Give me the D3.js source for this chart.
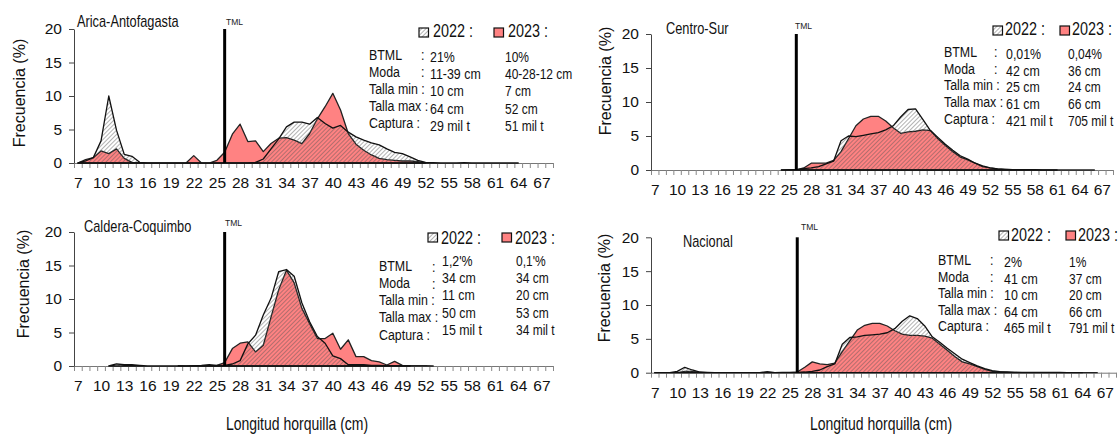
<!DOCTYPE html>
<html>
<head>
<meta charset="utf-8">
<script src="https://cdn.jsdelivr.net/npm/d3@7"></script>
<style>
    body { margin: 0; background: #fff; }
    svg { display: block; font-family: 'Liberation Sans', Arial, sans-serif; }
</style>
</head>
<body>
<div id="chartDiv"></div>
<script>
//Length classes (cm), one value per class, from 7 to 68
let lengths = [7, 8, 9, 10, 11, 12, 13, 14, 15, 16, 17, 18, 19, 20, 21, 22, 23, 24, 25, 26,
    27, 28, 29, 30, 31, 32, 33, 34, 35, 36, 37, 38, 39, 40, 41, 42, 43, 44, 45, 46,
    47, 48, 49, 50, 51, 52, 53, 54, 55, 56, 57, 58, 59, 60, 61, 62, 63, 64, 65, 66, 67, 68];
let xTickLabels = [7, 10, 13, 16, 19, 22, 25, 28, 31, 34, 37, 40, 43, 46, 49, 52, 55, 58, 61, 64, 67];
let yTicks = [0, 5, 10, 15, 20];
let tml = 26;

//Frequencies (%) per length class, null where the year has no data
let arica2022 = [0, 0.3, 0.8, 3.3, 10, 4.9, 1.3, 1.0, 0.1,
    0, 0, 0, 0, 0, 0, 0, 0, 0, 0, 0, 0, 0, 0,
    0.1, 0.6, 2.1, 3.6, 5.4, 6.1, 6.1, 5.8, 6.8, 5.9,
    5.2, 5.6, 4.6, 3.9, 3.4, 3.0, 2.7, 2.1, 1.6, 1.4,
    0.9, 0.4, 0.1, 0.05, 0, 0, 0, 0.05, 0, 0,
    0, 0, 0, 0, 0,
    null, null, null, null];
let arica2023 = [0, 0.5, 0.8, 1.8, 1.4, 2.1, 0.7, 0.1, 0,
    0, 0, 0, 0, 0, 0, 1.1, 0, 0, 0.4,
    1.6, 4.3, 5.8, 3.2, 3.3, 1.7, 2.9, 3.7, 3.8, 3.4,
    2.9, 4.4, 6.6, 8.4, 10.4, 7.9, 4.4, 2.8, 1.9, 1.2,
    0.7, 0.5, 0.4, 0.3, 0.3, 0.2, 0,
    null, null, null, null, null, null, null, null, null, null, null, null, null, null, null, null];
let centro2022 = [null, null, null, null, null, null, null, null, null, null, null, null, null, null, null, null, null,
    0, 0.05, 0.05, 0.2, 0.3, 0.5, 0.9, 1.3, 4.3, 5.0,
    4.9, 5.1, 5.3, 5.5, 5.9, 6.5, 7.8, 8.9, 9.0, 7.4,
    5.8, 4.8, 3.8, 2.9, 2.1, 1.6, 1.0, 0.6, 0.3, 0.15,
    0.1, 0.05, 0.05, 0.05, 0.05, 0, 0, 0,
    null, null, null, null, null, null, null];
let centro2023 = [null, null, null, null, null, null, null, null, null, null, null, null, null, null, null, null, null,
    0, 0, 0, 0.3, 1.0, 1.0, 1.0, 1.4, 2.7, 4.6,
    6.5, 7.5, 7.9, 7.9, 7.2, 6.2, 5.4, 5.6, 5.7, 5.9,
    5.8, 4.6, 3.6, 2.7, 1.9, 1.5, 1.0, 0.5, 0.3, 0.15,
    0.1, 0.05, 0.05, 0.05, 0, 0, 0, 0, 0, 0, 0, 0, 0,
    null, null];
let caldera2022 = [null, null, null, null,
    0, 0.3, 0.2, 0.2, 0.1, 0, 0, 0, 0, 0,
    0, 0.05, 0.1, 0.2, 0.1, 0.1, 0.3, 0.8, 3.3, 4.6,
    7.6, 10.1, 14.1, 14.4, 13.4, 9.4, 6.6, 4.4, 3.4, 1.5,
    1.1, 0.2, 0.2, 0.2, 0.1, 0.1, 0.05, 0.05, 0.05, 0.05,
    null, null, null, null, null, null, null, null, null, null, null, null, null, null, null, null, null, null];
let caldera2023 = [null, null, null, null, null, null, null, null, null, null, null, null, null,
    0.05, 0, 0, 0, 0, 0.1, 0.5, 2.6, 3.4, 3.6,
    2.1, 3.1, 7.3, 11.4, 14.3, 12.4, 8.6, 6.3, 4.1, 4.1,
    4.9, 2.5, 3.9, 1.4, 1.4, 0.8, 0.6, 0.15, 0.7, 0.1,
    0.05, 0.05, 0.05, 0,
    null, null, null, null, null, null, null, null, null, null, null, null, null, null, null];
let nacional2022 = [0, 0, 0, 0.2, 0.8, 0.4, 0.1, 0.05, 0, 0,
    0, 0, 0, 0, 0, 0.05, 0, 0.05, 0.05, 0.05,
    0.1, 0.2, 0.4, 0.9, 1.3, 4.2, 5.2, 5.3, 5.5, 5.6,
    5.7, 5.9, 6.5, 7.6, 8.4, 8.0, 6.9, 5.3, 4.5, 3.6,
    2.8, 2.0, 1.5, 1.0, 0.6, 0.3, 0.15, 0.1, 0.05, 0.05,
    0.05, 0.05, 0.05, 0.05, 0.05, 0, 0, 0,
    null, null, null, null];
let nacional2023 = [0, 0, 0, 0, 0.2, 0.2, 0.05, 0, 0, 0,
    0, 0, 0, 0, 0, 0.15, 0, 0, 0, 0.1,
    0.8, 1.6, 1.3, 1.2, 1.4, 3.1, 4.7, 6.3, 7.0, 7.3,
    7.3, 6.9, 6.2, 5.7, 5.5, 5.5, 5.4, 5.1, 4.2, 3.3,
    2.4, 1.6, 1.3, 0.9, 0.5, 0.2, 0.1, 0.05, 0.05, 0,
    0, 0, 0, 0, 0, 0, 0, 0, 0, 0,
    null, null];

//Summary boxes: one pair [2022, 2023] per row
let statLabels = ['BTML', 'Moda', 'Talla min :', 'Talla max :', 'Captura :'];
let aricaStats = [['21%', '10%'], ['11-39 cm', '40-28-12 cm'], ['10 cm', '7 cm'], ['64 cm', '52 cm'], ['29 mil t', '51 mil t']];
let centroStats = [['0,01%', '0,04%'], ['42 cm', '36 cm'], ['25 cm', '24 cm'], ['61 cm', '66 cm'], ['421 mil t', '705 mil t']];
let calderaStats = [["1,2'%", "0,1'%"], ['34 cm', '34 cm'], ['11 cm', '20 cm'], ['50 cm', '53 cm'], ['15 mil t', '34 mil t']];
let nacionalStats = [['2%', '1%'], ['41 cm', '37 cm'], ['10 cm', '20 cm'], ['64 cm', '66 cm'], ['465 mil t', '791 mil t']];

let panels = [
    {title: 'Arica-Antofagasta', s22: arica2022, s23: arica2023, stats: aricaStats,
        x0: 74, x1: 553, yBottom: 163, yTop: 29, titlePos: [77, 27], tmlPos: [226, 25], yTitle: [24.5, 93],
        legend: {top: 28, box1: 419, text1: 433, box2: 494, text2: 508, base: 37},
        rows: {label: 369, colon: 421, v1: 430, v2: 505, top: 59.5, step: 17.2, vOff: 2.5, cOff: 0}},
    {title: 'Centro-Sur', s22: centro2022, s23: centro2023, stats: centroStats,
        x0: 651, x1: 1113, yBottom: 170, yTop: 34, titlePos: [666, 33.5], tmlPos: [795, 28.5], yTitle: [610.5, 81],
        legend: {top: 26, box1: 993, text1: 1005, box2: 1060, text2: 1072, base: 35},
        rows: {label: 944, colon: 994, v1: 1006, v2: 1068, top: 56.7, step: 16.8, vOff: 2, cOff: 0}},
    {title: 'Caldera-Coquimbo', s22: caldera2022, s23: caldera2023, stats: calderaStats,
        x0: 74, x1: 553, yBottom: 366, yTop: 232, titlePos: [84, 231.5], tmlPos: [225, 226], yTitle: [28.5, 284],
        legend: {top: 233, box1: 428, text1: 441, box2: 502, text2: 515, base: 243.5},
        rows: {label: 379, colon: 432, v1: 442, v2: 516, top: 270.7, step: 17.2, vOff: -4.7, cOff: 1.5}},
    {title: 'Nacional', s22: nacional2022, s23: nacional2023, stats: nacionalStats,
        x0: 651, x1: 1116, yBottom: 372.7, yTop: 237.3, titlePos: [683, 246.5], tmlPos: [801, 230], yTitle: [609.5, 288],
        legend: {top: 231, box1: 999, text1: 1011, box2: 1066, text2: 1078, base: 241},
        rows: {label: 938, colon: 990, v1: 1004, v2: 1069, top: 265, step: 16.6, vOff: 2, cOff: 0}}
];

let pink = '#ff8282';

let svg = d3.select('#chartDiv')
    .append('svg')
    .attr('width', 1118)
    .attr('height', 434);

//Diagonal hatch used for the 2022 series (transparent background so 2023 shows through)
svg.append('defs')
    .append('pattern')
    .attr('id', 'hatch')
    .attr('patternUnits', 'userSpaceOnUse')
    .attr('width', 3)
    .attr('height', 3)
    .attr('patternTransform', 'rotate(45)')
    .append('line')
    .attr('x1', 0).attr('y1', 0).attr('x2', 0).attr('y2', 3)
    .attr('stroke', '#555')
    .attr('stroke-width', 0.9);

//Narrow text: Arial metrics squeezed horizontally
let narrowText = function(g, x, y, str, size) {
    return g.append('text')
        .attr('transform', 'translate(' + x + ',' + y + ') scale(0.8,1)')
        .style('font-size', size + 'px')
        .attr('fill', '#111')
        .text(str);
};

panels.forEach(function(p) {
    let g = svg.append('g');

    let xScale = d3.scaleLinear()
        .domain([lengths[0] - 0.5, lengths[lengths.length - 1] + 0.5])
        .range([p.x0, p.x1]);
    let yScale = d3.scaleLinear()
        .domain([0, 20])
        .range([p.yBottom, p.yTop]);

    let area = d3.area()
        .defined(function(d) {return d.v !== null})
        .x(function(d) {return xScale(d.c)})
        .y0(yScale(0))
        .y1(function(d) {return yScale(d.v)});

    let d23 = lengths.map(function(c, i) {return {c: c, v: p.s23[i]}});
    let d22 = lengths.map(function(c, i) {return {c: c, v: p.s22[i]}});

    //x axis: ticks between classes, labels every 3 cm
    g.append('g')
        .attr('class', 'axis axis--x')
        .attr('transform', 'translate(0,' + p.yBottom + ')')
        .call(d3.axisBottom(xScale)
            .tickValues(lengths.map(function(c) {return c - 0.5}).concat([lengths[lengths.length - 1] + 0.5]))
            .tickFormat('')
            .tickSize(5)
            .tickSizeOuter(0))
        .call(function(a) {
            a.select('.domain').attr('stroke', '#777');
            a.selectAll('.tick line').attr('stroke', '#888');
        });

    g.append('g')
        .attr('transform', 'translate(0,' + p.yBottom + ')')
        .call(d3.axisBottom(xScale).tickValues(xTickLabels).tickSize(0).tickPadding(14))
        .call(function(a) {
            a.select('.domain').remove();
            a.selectAll('text').style('font-size', '15.5px').style('font-family', 'Liberation Sans').attr('fill', '#111');
        });

    //y axis
    g.append('g')
        .attr('class', 'axis axis--y')
        .attr('transform', 'translate(' + p.x0 + ',0)')
        .call(d3.axisLeft(yScale).tickValues(yTicks).tickSize(5).tickPadding(7).tickSizeOuter(0))
        .call(function(a) {
            a.select('.domain').attr('stroke', '#444');
            a.selectAll('.tick line').attr('stroke', '#444');
            a.selectAll('text').style('font-size', '15.5px').style('font-family', 'Liberation Sans').attr('fill', '#111');
        });

    //2023 area in pink, 2022 hatched on top
    g.append('path')
        .datum(d23)
        .attr('d', area)
        .attr('fill', pink)
        .attr('stroke', '#222')
        .attr('stroke-width', 1.3)
        .attr('stroke-linejoin', 'round');

    g.append('path')
        .datum(d22)
        .attr('d', area)
        .attr('fill', 'url(#hatch)')
        .attr('stroke', '#111')
        .attr('stroke-width', 1.3)
        .attr('stroke-linejoin', 'round');

    //TML reference line
    g.append('line')
        .attr('x1', xScale(tml)).attr('x2', xScale(tml))
        .attr('y1', yScale(0)).attr('y2', yScale(20))
        .attr('stroke', '#000')
        .attr('stroke-width', 3);
    g.append('text')
        .attr('x', p.tmlPos[0])
        .attr('y', p.tmlPos[1])
        .style('font-size', '8.5px')
        .attr('fill', '#222')
        .text('TML');

    //titles
    narrowText(g, p.titlePos[0], p.titlePos[1], p.title, 16);
    g.append('text')
        .attr('transform', 'translate(' + p.yTitle[0] + ',' + p.yTitle[1] + ') rotate(-90)')
        .attr('text-anchor', 'middle')
        .style('font-size', '16px')
        .attr('fill', '#111')
        .text('Frecuencia (%)');

    //legend
    let L = p.legend;
    g.append('rect').attr('x', L.box1).attr('y', L.top).attr('width', 9.5).attr('height', 9)
        .attr('fill', 'url(#hatch)').attr('stroke', '#111').attr('stroke-width', 1.2);
    narrowText(g, L.text1, L.base, '2022 :', 18);
    g.append('rect').attr('x', L.box2).attr('y', L.top).attr('width', 9.5).attr('height', 9)
        .attr('fill', pink).attr('stroke', '#111').attr('stroke-width', 1.2);
    narrowText(g, L.text2, L.base, '2023 :', 18);

    //summary rows
    let R = p.rows;
    statLabels.forEach(function(lab, i) {
        let yy = R.top + i * R.step;
        narrowText(g, R.label, yy, lab, 15.5);
        if (i < 2) narrowText(g, R.colon, yy + R.cOff, ':', 15.5);
        narrowText(g, R.v1, yy + R.vOff, p.stats[i][0], 15.5);
        narrowText(g, R.v2, yy + R.vOff, p.stats[i][1], 15);
    });
});

//x axis titles, one per column
narrowText(svg, 297, 430, 'Longitud horquilla  (cm)', 17.5).attr('text-anchor', 'middle');
narrowText(svg, 881, 430, 'Longitud horquilla  (cm)', 17.5).attr('text-anchor', 'middle');
</script>
</body>
</html>
